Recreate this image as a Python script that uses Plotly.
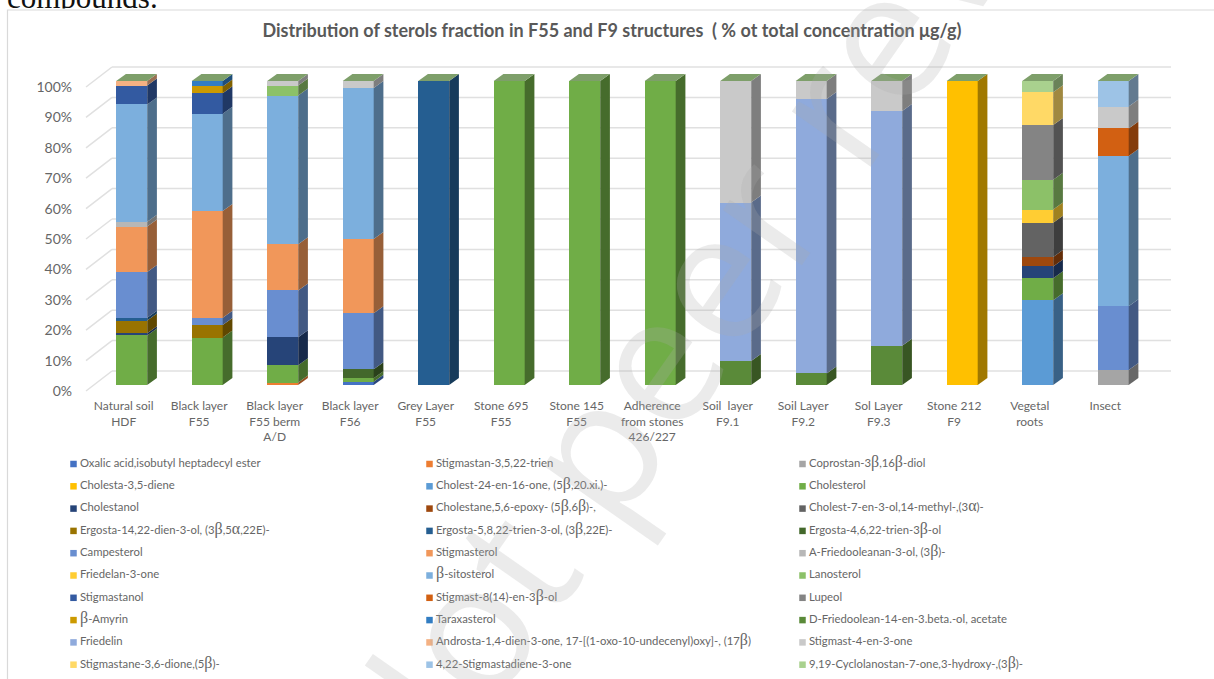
import plotly.graph_objects as go

sample_labels = ["Natural soil<br>HDF", "Black layer<br>F55", "Black layer<br>F55 berm<br>A/D", "Black layer<br>F56",
                 "Grey Layer<br>F55", "Stone 695<br>F55", "Stone 145<br>F55", "Adherence<br>from stones<br>426/227",
                 "Soil  layer<br>F9.1", "Soil Layer<br>F9.2", "Sol Layer<br>F9.3", "Stone 212<br>F9",
                 "Vegetal<br>roots", "Insect<br> "]

B = '<span style="font-family:Liberation Serif;font-size:16px">β</span>'
A = '<span style="font-family:Liberation Serif;font-size:16px">α</span>'
series_names = [
    "Oxalic acid,isobutyl heptadecyl ester", "Stigmastan-3,5,22-trien", f"Coprostan-3{B},16{B}-diol",
    "Cholesta-3,5-diene", f"Cholest-24-en-16-one, (5{B},20.xi.)-", "Cholesterol",
    "Cholestanol", f"Cholestane,5,6-epoxy- (5{B},6{B})-,", f"Cholest-7-en-3-ol,14-methyl-,(3{A})-",
    f"Ergosta-14,22-dien-3-ol, (3{B},5{A},22E)-", f"Ergosta-5,8,22-trien-3-ol, (3{B},22E)-", f"Ergosta-4,6,22-trien-3{B}-ol",
    "Campesterol", "Stigmasterol", f"A-Friedooleanan-3-ol, (3{B})-",
    "Friedelan-3-one", f"{B}-sitosterol", "Lanosterol",
    "Stigmastanol", f"Stigmast-8(14)-en-3{B}-ol", "Lupeol",
    f"{B}-Amyrin", "Taraxasterol", "D-Friedoolean-14-en-3.beta.-ol, acetate",
    "Friedelin", f"Androsta-1,4-dien-3-one, 17-[(1-oxo-10-undecenyl)oxy]-, (17{B})", "Stigmast-4-en-3-one",
    f"Stigmastane-3,6-dione,(5{B})-", "4,22-Stigmastadiene-3-one", f"9,19-Cyclolanostan-7-one,3-hydroxy-,(3{B})-",
]

series_colors = [
    "#4472C4", "#ED7D31", "#A5A5A5", "#FFC000", "#5B9BD5", "#70AD47",
    "#264478", "#9E480E", "#636363", "#997300", "#255E91", "#43682B",
    "#698ED0", "#F1975A", "#B7B7B7", "#FFCD33", "#7CAFDD", "#8CC168",
    "#335AA1", "#D26012", "#848484", "#CC9A00", "#327DC2", "#5A8A39",
    "#8FAADC", "#F4B183", "#C9C9C9", "#FFD966", "#9DC3E6", "#A9D18E",
]

oxalic_acid       = [0, 0, 0, 1.1, 0, 0, 0, 0, 0, 0, 0, 0, 0, 0]
stigmastan_trien  = [0, 0, 0.8, 0, 0, 0, 0, 0, 0, 0, 0, 0, 0, 0]
coprostan         = [0, 0, 0, 0, 0, 0, 0, 0, 0, 0, 0, 0, 0, 4.9]
cholesta_diene    = [0, 0, 0, 0, 0, 0, 0, 0, 0, 0, 0, 100, 0, 0]
cholest_24_en     = [0, 0, 0, 0, 0, 0, 0, 0, 0, 0, 0, 0, 27.9, 0]
cholesterol       = [16.3, 15.6, 5.7, 1.1, 0, 100, 100, 100, 0, 0, 0, 0, 7.2, 0]
cholestanol       = [0.7, 0, 9.2, 0, 0, 0, 0, 0, 0, 0, 0, 0, 3.9, 0]
cholestane_epoxy  = [0, 0, 0, 0, 0, 0, 0, 0, 0, 0, 0, 0, 3.1, 0]
cholest_7_en      = [0, 0, 0, 0, 0, 0, 0, 0, 0, 0, 0, 0, 11.3, 0]
ergosta_14_22     = [4.2, 4.1, 0, 0, 0, 0, 0, 0, 0, 0, 0, 0, 0, 0]
ergosta_5_8_22    = [0.9, 0, 0, 0, 100, 0, 0, 0, 0, 0, 0, 0, 0, 0]
ergosta_4_6_22    = [0, 0, 0, 3.0, 0, 0, 0, 0, 0, 0, 0, 0, 0, 0]
campesterol       = [15.1, 2.4, 15.4, 18.4, 0, 0, 0, 0, 0, 0, 0, 0, 0, 21.0]
stigmasterol      = [14.9, 35.1, 15.2, 24.4, 0, 0, 0, 0, 0, 0, 0, 0, 0, 0]
a_friedooleanan   = [1.6, 0, 0, 0, 0, 0, 0, 0, 0, 0, 0, 0, 0, 0]
friedelan_3_one   = [0, 0, 0, 0, 0, 0, 0, 0, 0, 0, 0, 0, 4.3, 0]
beta_sitosterol   = [38.6, 32.0, 48.9, 49.7, 0, 0, 0, 0, 0, 0, 0, 0, 0, 49.4]
lanosterol        = [0, 0, 3.3, 0, 0, 0, 0, 0, 0, 0, 0, 0, 9.8, 0]
stigmastanol      = [6.2, 6.8, 0, 0, 0, 0, 0, 0, 0, 0, 0, 0, 0, 0]
stigmast_8_14     = [0, 0, 0, 0, 0, 0, 0, 0, 0, 0, 0, 0, 0, 9.1]
lupeol            = [0, 0, 0, 0, 0, 0, 0, 0, 0, 0, 0, 0, 18.0, 0]
beta_amyrin       = [0, 2.2, 0, 0, 0, 0, 0, 0, 0, 0, 0, 0, 0, 0]
taraxasterol      = [0, 1.8, 0, 0, 0, 0, 0, 0, 0, 0, 0, 0, 0, 0]
d_friedoolean     = [0, 0, 0, 0, 0, 0, 0, 0, 7.9, 3.8, 12.9, 0, 0, 0]
friedelin         = [0, 0, 0, 0, 0, 0, 0, 0, 52.1, 90.3, 77.2, 0, 0, 0]
androsta          = [1.5, 0, 0, 0, 0, 0, 0, 0, 0, 0, 0, 0, 0, 0]
stigmast_4_en     = [0, 0, 1.5, 2.3, 0, 0, 0, 0, 40.0, 5.9, 9.9, 0, 0, 7.2]
stigmastane_dione = [0, 0, 0, 0, 0, 0, 0, 0, 0, 0, 0, 0, 10.8, 0]
stigmastadiene    = [0, 0, 0, 0, 0, 0, 0, 0, 0, 0, 0, 0, 0, 8.4]
cyclolanostan     = [0, 0, 0, 0, 0, 0, 0, 0, 0, 0, 0, 0, 3.7, 0]

series_values = [
    oxalic_acid, stigmastan_trien, coprostan, cholesta_diene, cholest_24_en, cholesterol,
    cholestanol, cholestane_epoxy, cholest_7_en, ergosta_14_22, ergosta_5_8_22, ergosta_4_6_22,
    campesterol, stigmasterol, a_friedooleanan, friedelan_3_one, beta_sitosterol, lanosterol,
    stigmastanol, stigmast_8_14, lupeol, beta_amyrin, taraxasterol, d_friedoolean,
    friedelin, androsta, stigmast_4_en, stigmastane_dione, stigmastadiene, cyclolanostan,
]

y_ticks = [0, 10, 20, 30, 40, 50, 60, 70, 80, 90, 100]
y_tick_labels = ["0%", "10%", "20%", "30%", "40%", "50%", "60%", "70%", "80%", "90%", "100%"]

W, H = 1214, 679
FONT = "Lato"
TXT = "#666666"
X0, STEP = 131.7, 75.5          # px of first bar centre, px between bars
Y0, UNIT = 385.0, 3.04          # px of bar base, px per percent
PL, PR, PT, PB = 73, 1175, 60, 397
BAR_PX = 31
DX, DY = 9.7 / STEP, 7.0 / UNIT  # bar depth in data units
WALL_DX, WALL_DY = 26 / STEP, 20 / UNIT
TICK_SHIFT_Y = 6 / UNIT
TICK_SHIFT_X = 8 / STEP

x_of = lambda px: (px - X0) / STEP
y_of = lambda py: (Y0 - py) / UNIT
bw = BAR_PX / STEP
idx = list(range(len(sample_labels)))


def shade(c, f=0.63):
    r, g, b = int(c[1:3], 16), int(c[3:5], 16), int(c[5:7], 16)
    return f"rgb({int(r*f)},{int(g*f)},{int(b*f)})"


fig = go.Figure()

# front faces
for name, color, vals in zip(series_names, series_colors, series_values):
    fig.add_trace(go.Bar(x=idx, y=vals, name=name, width=bw, marker=dict(color=color, line=dict(width=0)),
                         showlegend=False, hoverinfo="skip"))

# side faces, from the cumulative stack
base = [0.0] * len(idx)
for color, vals in zip(series_colors, series_values):
    xs, ys = [], []
    for i, v in enumerate(vals):
        if v > 0:
            r = i + bw / 2
            b0, b1 = base[i], base[i] + v
            xs += [r, r + DX, r + DX, r, r, None]
            ys += [b0, b0 + DY, b1 + DY, b1, b0, None]
            base[i] = b1
    if xs:
        fig.add_trace(go.Scatter(x=xs, y=ys, mode="lines", fill="toself", fillcolor=shade(color),
                                 line=dict(width=0), showlegend=False, hoverinfo="skip"))

# top faces
xs, ys = [], []
for i, t in enumerate(base):
    l, r = i - bw / 2, i + bw / 2
    xs += [l, l + DX, r + DX, r, l, None]
    ys += [t, t + DY, t + DY, t, t, None]
fig.add_trace(go.Scatter(x=xs, y=ys, mode="lines", fill="toself", fillcolor="#7E9F6A", line=dict(width=0),
                         showlegend=False, hoverinfo="skip"))

# legend block, in its own axes
LEG_COLS = [73.5, 429.5, 802.5]
LEG_Y0, LEG_DY = 464.0, 22.3
for k, (name, color) in enumerate(zip(series_names, series_colors)):
    col, row = k % 3, k // 3
    fig.add_trace(go.Scatter(x=[LEG_COLS[col]], y=[LEG_Y0 + row * LEG_DY], mode="markers+text", text=["\u2009" + name],
                             textposition="middle right", textfont=dict(family=FONT, size=11.3, color=TXT),
                             marker=dict(symbol="square", size=6.5, color=color), xaxis="x2", yaxis="y2",
                             showlegend=False, hoverinfo="skip", cliponaxis=False))

# page text above the chart, in a thin strip of axes that clips its descender
fig.add_trace(go.Scatter(x=[7], y=[0], mode="text", text=["compounds."], textposition="middle right",
                         textfont=dict(family="Liberation Serif", size=31, color="#111111"),
                         xaxis="x3", yaxis="y3", showlegend=False, hoverinfo="skip", cliponaxis=True))

shapes = []
G = "#E0E0E0"
xl, xr = x_of(86), x_of(1171)
for v in y_ticks:
    front = v - TICK_SHIFT_Y
    back = front + WALL_DY
    shapes.append(dict(type="line", xref="x", yref="y", x0=x_of(86), x1=x_of(86) + WALL_DX, y0=front, y1=back,
                       line=dict(color=G, width=1.5), layer="below"))
    shapes.append(dict(type="line", xref="x", yref="y", x0=x_of(86) + WALL_DX, x1=xr, y0=back, y1=back,
                       line=dict(color=G, width=1.5), layer="below"))
# chart frame: its right and bottom edges run past the picture
shapes.append(dict(type="rect", xref="paper", yref="paper", x0=7.5 / W, x1=1.02, y0=-0.02, y1=1 - 10 / H,
                   line=dict(color="#D9D9D9", width=1.2), layer="below"))

fig.update_layout(
    width=W, height=H, autosize=False, margin=dict(l=0, r=0, t=0, b=0), paper_bgcolor="white", plot_bgcolor="rgba(0,0,0,0)",
    barmode="stack", bargap=0, showlegend=False, shapes=shapes,
    font=dict(family=FONT, color=TXT),
    title=dict(text="<b>Distribution of sterols fraction in F55 and F9 structures  ( % ot total concentration μg/g)</b>",
               x=612 / W, xanchor="center", y=1 - 31 / H, yanchor="middle", font=dict(family=FONT, size=18, color="#595959")),
    xaxis=dict(domain=[PL / W, PR / W], range=[x_of(PL), x_of(PR)], tickmode="array",
               tickvals=[i - TICK_SHIFT_X for i in idx], ticktext=sample_labels, tickangle=0, showgrid=False, zeroline=False,
               showline=False, ticks="", tickfont=dict(family=FONT, size=12, color=TXT), automargin=False),
    yaxis=dict(domain=[1 - PB / H, 1 - PT / H], range=[y_of(PB), y_of(PT)], tickmode="array",
               tickvals=[v - TICK_SHIFT_Y for v in y_ticks], ticktext=y_tick_labels, showgrid=False, zeroline=False,
               showline=False, ticks="", tickfont=dict(family=FONT, size=14, color=TXT), automargin=False),
    xaxis2=dict(domain=[0, 1], range=[0, W], visible=False, anchor="y2"),
    yaxis2=dict(domain=[0, 1 - 445 / H], range=[H, 445], visible=False, anchor="x2"),
    xaxis3=dict(domain=[0, 1], range=[0, W], visible=False, anchor="y3"),
    yaxis3=dict(domain=[1 - 8.5 / H, 1], range=[8.5, 0], visible=False, anchor="x3"),
    annotations=[
        dict(text="Not peer reviewed", xref="paper", yref="paper", x=797 / W, y=1 - 150 / H, xanchor="center", yanchor="middle",
             textangle=-55, showarrow=False, font=dict(family="Open Sans", size=180, color="rgba(170,170,170,0.24)")),
    ],
)

fig.write_html("out.html", config=dict(displayModeBar=False),
               post_script="document.body.style.margin='0';document.body.style.overflow='hidden';")
